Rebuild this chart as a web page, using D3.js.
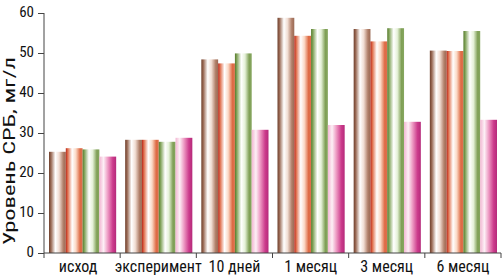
<!DOCTYPE html>
<html><head><meta charset="utf-8">
<script src="https://cdn.jsdelivr.net/npm/d3@7"></script>
<style>body{margin:0;background:#fff}svg{display:block}text{font-family:"Liberation Sans Narrow","Arial Narrow","Roboto Condensed",sans-serif;fill:#111}</style>
</head><body><svg id="c" width="502" height="278"></svg>
<script>
const categories = ["исход","эксперимент","10 дней","1 месяц","3 месяц","6 месяц"];
const seriesNames = ["s1","s2","s3","s4"];
const s1 = [25.3, 28.3, 48.4, 58.8, 56.0, 50.6];
const s2 = [26.2, 28.3, 47.4, 54.3, 52.9, 50.5];
const s3 = [25.9, 27.8, 49.9, 56.0, 56.2, 55.5];
const s4 = [24.1, 28.8, 30.8, 32.0, 32.8, 33.3];
const yTicks = [0,10,20,30,40,50,60];
const colors = [
  {dark:"#6e3f2c", mid:"#9a6a55", light:"#f1ddd3", base:"#b07e68"},
  {dark:"#b8261a", mid:"#e0704e", light:"#fbd9c6", base:"#de6a44"},
  {dark:"#557a2a", mid:"#86a760", light:"#e5f1d8", base:"#7f9f55"},
  {dark:"#f2b6d2", mid:"#f7d3e3", light:"#ee9cc4", base:"#cc3b8c"}
];
const allSeries = [s1,s2,s3,s4];

const svg = d3.select("#c");
const m = {l:44, r:1, t:13, b:25};
const W = 502, H = 278;
const x0 = d3.scaleBand().domain(categories).range([m.l, W-m.r]).padding(0);
const x1 = d3.scaleBand().domain(seriesNames).range([5, x0.bandwidth()-4]).padding(0);
const y = d3.scaleLinear().domain([0,60]).range([H-m.b, m.t]);

const defs = svg.append("defs");
colors.forEach((c,i)=>{
  const g = defs.append("linearGradient").attr("id","g"+i).attr("x1","0").attr("x2","1").attr("y1","0").attr("y2","0");
  const stops = i<3 ? [[0,c.dark],[0.12,c.mid],[0.38,"#ffffff"],[0.6,c.light],[0.85,c.base],[1,c.mid]]
                    : [[0,c.dark],[0.25,"#fdf0f6"],[0.5,c.light],[0.8,c.base],[1,"#b52a7a"]];
  stops.forEach(s=>g.append("stop").attr("offset",s[0]).attr("stop-color",s[1]));
});

const groups = svg.append("g").selectAll("g").data(categories).join("g")
  .attr("transform",d=>`translate(${x0(d)},0)`);
groups.selectAll("rect").data((d,ci)=>seriesNames.map((s,si)=>({s,si,v:allSeries[si][ci]})))
  .join("rect")
  .attr("x",d=>x1(d.s)).attr("width",x1.bandwidth())
  .attr("y",d=>y(d.v)).attr("height",d=>y(0)-y(d.v))
  .attr("fill",d=>`url(#g${d.si})`);

const yAxis = svg.append("g").attr("transform",`translate(${m.l},0)`)
  .call(d3.axisLeft(y).tickValues(yTicks).tickSize(6).tickPadding(4).tickFormat(d3.format("d")));
yAxis.select(".domain").attr("stroke","#444").attr("d",`M0,${m.t}V${H-m.b}`);
yAxis.selectAll(".tick line").attr("stroke","#444");
yAxis.selectAll("text").attr("font-size",15).attr("fill","#222").attr("dy","0.22em");

const tickPos = categories.map(c=>x0(c)).concat([x0(categories[categories.length-1])+x0.bandwidth()]);
const xAx = svg.append("g").attr("transform",`translate(0,${H-m.b})`);
xAx.append("line").attr("x1",m.l).attr("x2",W-m.r).attr("stroke","#444");
xAx.selectAll("line.t").data(tickPos).join("line").attr("class","t")
  .attr("x1",d=>d).attr("x2",d=>d).attr("y1",0).attr("y2",5).attr("stroke","#444");
xAx.selectAll("text").data(categories).join("text")
  .attr("x",(d,i)=>x0(d)+x0.bandwidth()/2 - (i===0?4:0)).attr("y",19)
  .attr("text-anchor","middle").attr("font-size",16).attr("fill","#222").text(d=>d);

svg.append("text").attr("transform",`translate(15,${151}) rotate(-90)`)
  .attr("text-anchor","middle").attr("font-size",16).attr("fill","#222")
  .attr("textLength",188).attr("lengthAdjust","spacingAndGlyphs").text("Уровень СРБ, мг/л");
</script></body></html>
